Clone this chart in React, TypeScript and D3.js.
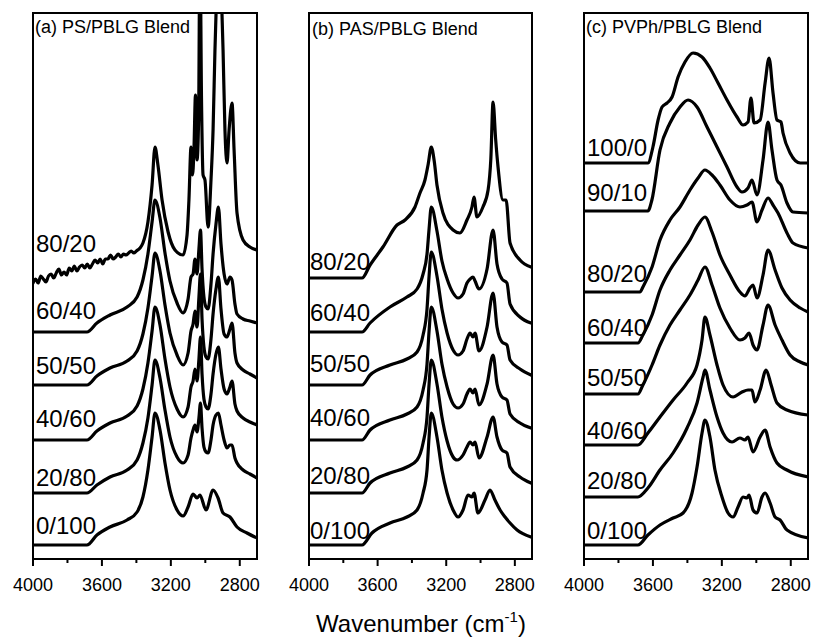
import React from 'react';
import * as d3 from 'd3';

type Pt = [number, number];

// ---------- shared axis values ----------
const xDomain: [number, number] = [4000, 2700];
const majorTicks = [4000, 3600, 3200, 2800];
const minorTicks = [3800, 3400, 3000];
const yDomain: [number, number] = [0, 546];

// ---------- (a) PS/PBLG ----------
const psTitle = '(a) PS/PBLG Blend';
const psLabels = ['80/20', '60/40', '50/50', '40/60', '20/80', '0/100'];
const psLabelLevels = [307, 240, 185, 132, 73, 25];
const ps_80_20: Pt[] = [[4000,276],[3985,280],[3970,276],[3955,283],[3940,280],[3925,277],[3910,283],[3895,285],[3880,281],[3865,286],[3850,290],[3835,284],[3820,287],[3805,284],[3790,291],[3775,288],[3760,293],[3745,288],[3730,292],[3715,294],[3700,291],[3685,295],[3670,291],[3655,295],[3640,299],[3625,296],[3610,300],[3595,295],[3580,300],[3565,300],[3550,304],[3535,300],[3520,302],[3505,305],[3490,302],[3475,305],[3460,304],[3445,306],[3430,308],[3415,306],[3400,308],[3379,311],[3362,316],[3333,337],[3309,374],[3292,412],[3275,394],[3251,359],[3216,327],[3176,309],[3129,304],[3106,324],[3095,359],[3083,412],[3074,384],[3066,409],[3057,464],[3048,399],[3039,439],[3031,620],[3022,459],[3013,384],[3002,379],[2984,332],[2967,379],[2955,429],[2944,509],[2932,579],[2921,619],[2909,579],[2897,509],[2886,429],[2874,396],[2862,429],[2845,456],[2833,409],[2816,346],[2781,319],[2741,312],[2700,309]];
const ps_60_40: Pt[] = [[4000,227],[3687,227],[3629,236],[3553,244],[3454,252],[3396,262],[3362,279],[3333,305],[3309,337],[3292,359],[3263,341],[3234,306],[3205,278],[3164,256],[3129,246],[3100,260],[3083,282],[3071,285],[3060,300],[3048,285],[3037,310],[3028,329],[3019,290],[3008,262],[2996,252],[2984,250],[2967,275],[2955,305],[2938,335],[2924,352],[2909,315],[2891,285],[2874,275],[2857,282],[2845,279],[2828,255],[2816,245],[2781,240],[2741,238],[2700,236]];
const ps_50_50: Pt[] = [[4000,174],[3687,174],[3629,183],[3553,191],[3454,198],[3396,208],[3362,225],[3333,251],[3309,283],[3292,306],[3263,288],[3234,254],[3205,226],[3164,204],[3129,194],[3100,206],[3083,228],[3071,235],[3060,248],[3048,232],[3037,262],[3028,285],[3019,240],[3008,212],[2996,202],[2984,200],[2967,220],[2955,245],[2938,270],[2924,282],[2909,250],[2891,225],[2874,222],[2857,230],[2845,236],[2828,206],[2816,196],[2781,189],[2741,185],[2700,181]];
const ps_40_60: Pt[] = [[4000,119],[3687,119],[3629,128],[3553,136],[3454,143],[3396,153],[3362,170],[3333,196],[3309,228],[3292,252],[3263,234],[3234,200],[3205,172],[3164,150],[3129,142],[3100,152],[3083,172],[3071,178],[3060,190],[3048,178],[3037,200],[3028,222],[3019,185],[3008,160],[2996,152],[2984,150],[2967,165],[2955,185],[2938,205],[2924,212],[2909,190],[2891,170],[2874,165],[2857,172],[2845,178],[2828,155],[2816,148],[2781,141],[2741,137],[2700,134]];
const ps_20_80: Pt[] = [[4000,66],[3687,66],[3629,74],[3553,82],[3454,89],[3396,99],[3362,116],[3333,141],[3309,174],[3292,199],[3263,181],[3234,149],[3205,122],[3164,102],[3129,96],[3100,104],[3083,121],[3071,129],[3060,134],[3048,127],[3037,141],[3028,156],[3019,131],[3008,112],[2996,107],[2984,106],[2967,119],[2955,134],[2938,144],[2924,146],[2909,134],[2891,119],[2874,111],[2857,114],[2845,114],[2828,101],[2816,96],[2781,89],[2741,85],[2700,81]];
const ps_0_100: Pt[] = [[4000,14],[3687,14],[3629,24],[3553,32],[3454,39],[3396,47],[3362,62],[3333,89],[3309,122],[3292,146],[3263,129],[3234,96],[3205,69],[3164,49],[3129,43],[3100,52],[3071,65],[3048,61],[3031,64],[2996,49],[2955,69],[2926,61],[2897,46],[2857,42],[2816,32],[2758,26],[2700,21]];

// ---------- (b) PAS/PBLG ----------
const pasTitle = '(b) PAS/PBLG Blend';
const pasLabels = ['80/20', '60/40', '50/50', '40/60', '20/80', '0/100'];
const pasLabelLevels = [289, 238, 187, 133, 75, 20];
const pas_80_20: Pt[] = [[4000,281],[3691,281],[3644,294],[3569,312],[3487,334],[3440,339],[3382,352],[3353,366],[3324,379],[3305,395],[3287,412],[3270,398],[3254,374],[3219,346],[3160,329],[3120,326],[3079,339],[3050,352],[3038,362],[3021,342],[2986,352],[2956,369],[2940,400],[2927,457],[2912,420],[2898,392],[2869,359],[2851,359],[2828,316],[2770,299],[2706,292]];
const pas_60_40: Pt[] = [[4000,227],[3691,227],[3644,236],[3528,252],[3429,262],[3370,270],[3335,285],[3312,305],[3300,330],[3287,352],[3254,328],[3225,298],[3195,280],[3160,266],[3131,261],[3102,265],[3079,276],[3061,280],[3044,282],[3032,278],[3009,270],[2962,290],[2927,329],[2904,295],[2875,280],[2846,276],[2828,255],[2770,242],[2706,236]];
const pas_50_50: Pt[] = [[4000,174],[3691,174],[3644,184],[3528,194],[3429,200],[3370,207],[3335,224],[3312,250],[3300,283],[3287,307],[3254,283],[3225,250],[3195,226],[3160,209],[3131,204],[3102,208],[3079,220],[3061,226],[3044,222],[3032,226],[3009,208],[2962,232],[2927,266],[2904,232],[2875,217],[2846,214],[2828,199],[2770,190],[2706,184]];
const pas_40_60: Pt[] = [[4000,119],[3691,119],[3644,129],[3528,139],[3429,145],[3370,152],[3335,169],[3312,195],[3300,228],[3287,252],[3254,228],[3225,195],[3195,172],[3160,155],[3131,151],[3102,155],[3079,165],[3061,170],[3044,166],[3032,170],[3009,154],[2962,175],[2927,204],[2904,175],[2875,162],[2846,159],[2828,145],[2770,136],[2706,131]];
const pas_20_80: Pt[] = [[4000,66],[3691,66],[3644,76],[3528,86],[3429,92],[3370,99],[3335,116],[3312,142],[3300,175],[3287,199],[3254,175],[3225,142],[3195,118],[3160,102],[3137,99],[3102,104],[3079,112],[3061,117],[3044,114],[3032,117],[3009,101],[2962,122],[2927,142],[2904,122],[2875,109],[2846,106],[2828,92],[2770,82],[2706,76]];
const pas_0_100: Pt[] = [[4000,14],[3691,14],[3633,26],[3528,36],[3429,42],[3370,49],[3335,66],[3312,89],[3300,122],[3287,146],[3254,122],[3225,89],[3195,66],[3160,49],[3131,42],[3102,49],[3073,64],[3050,62],[3038,66],[3015,46],[2974,59],[2945,69],[2916,59],[2886,49],[2857,42],[2828,36],[2787,29],[2706,22]];

// ---------- (c) PVPh/PBLG ----------
const pvphTitle = '(c) PVPh/PBLG Blend';
const pvphLabels = ['100/0', '90/10', '80/20', '60/40', '50/50', '40/60', '20/80', '0/100'];
const pvphLabelLevels = [403, 358, 277, 223, 173, 120, 70, 20];
const pvph_100_0: Pt[] = [[4000,396],[3629,396],[3600,412],[3570,439],[3547,452],[3518,456],[3489,462],[3454,482],[3414,497],[3367,506],[3315,502],[3269,491],[3222,476],[3170,459],[3112,442],[3077,434],[3048,437],[3031,461],[3013,436],[2978,439],[2949,476],[2926,501],[2903,466],[2880,439],[2857,437],[2845,426],[2804,406],[2745,396],[2700,396]];
const pvph_90_10: Pt[] = [[4000,348],[3629,348],[3606,359],[3559,409],[3501,436],[3443,452],[3396,459],[3344,452],[3286,432],[3228,412],[3170,392],[3112,372],[3083,367],[3048,371],[3025,379],[2996,364],[2961,399],[2932,437],[2909,409],[2880,379],[2857,374],[2822,356],[2787,347],[2700,346]];
const pvph_80_20: Pt[] = [[4000,267],[3675,267],[3658,272],[3605,292],[3559,319],[3501,339],[3443,352],[3385,369],[3338,381],[3298,389],[3257,384],[3211,374],[3153,359],[3095,352],[3054,354],[3025,357],[2996,337],[2967,349],[2932,361],[2903,354],[2874,346],[2822,326],[2787,316],[2700,311]];
const pvph_60_40: Pt[] = [[4000,216],[3687,216],[3658,224],[3605,244],[3559,269],[3501,289],[3443,304],[3385,319],[3338,334],[3298,342],[3257,327],[3211,304],[3153,284],[3095,267],[3066,263],[3037,271],[3019,274],[2996,261],[2961,284],[2932,309],[2891,289],[2851,271],[2804,259],[2745,251],[2700,247]];
const pvph_50_50: Pt[] = [[4000,165],[3687,165],[3658,174],[3605,194],[3559,214],[3501,234],[3443,249],[3385,264],[3338,279],[3298,292],[3257,274],[3211,251],[3153,231],[3095,219],[3066,221],[3042,226],[3019,214],[2996,209],[2961,234],[2932,254],[2891,234],[2851,219],[2804,204],[2745,197],[2700,194]];
const pvph_40_60: Pt[] = [[4000,114],[3687,114],[3629,126],[3559,142],[3483,159],[3402,176],[3344,194],[3315,219],[3298,242],[3269,224],[3228,194],[3193,174],[3135,162],[3083,167],[3048,169],[3025,169],[3008,157],[2978,169],[2943,189],[2914,174],[2880,156],[2822,149],[2700,144]];
const pvph_20_80: Pt[] = [[4000,62],[3687,62],[3629,71],[3559,89],[3483,106],[3402,131],[3344,156],[3309,182],[3298,189],[3269,169],[3228,142],[3193,126],[3141,117],[3095,121],[3066,119],[3048,122],[3019,107],[2978,122],[2949,129],[2920,112],[2880,96],[2822,89],[2700,82]];
const pvph_0_100: Pt[] = [[4000,14],[3687,14],[3629,24],[3559,34],[3483,41],[3425,46],[3373,66],[3344,92],[3315,126],[3298,139],[3269,122],[3240,89],[3199,62],[3164,46],[3135,42],[3106,52],[3077,62],[3054,61],[3042,64],[3019,49],[2996,46],[2967,62],[2949,66],[2920,56],[2891,42],[2862,39],[2822,29],[2700,21]];

const axisTitle = 'Wavenumber (cm';
const axisTitleSup = '-1';

const panelData = [
  { title: psTitle, labels: psLabels, levels: psLabelLevels, series: [ps_80_20, ps_60_40, ps_50_50, ps_40_60, ps_20_80, ps_0_100] },
  { title: pasTitle, labels: pasLabels, levels: pasLabelLevels, series: [pas_80_20, pas_60_40, pas_50_50, pas_40_60, pas_20_80, pas_0_100] },
  { title: pvphTitle, labels: pvphLabels, levels: pvphLabelLevels, series: [pvph_100_0, pvph_90_10, pvph_80_20, pvph_60_40, pvph_50_50, pvph_40_60, pvph_20_80, pvph_0_100] },
];

// ---------- layout ----------
const W = 813, H = 639;
const TOP = 13, BOTTOM = 559;
const layout = [
  { x0: 33, x1: 257, titleX: 35, titleY: 33, labelDx: 3 },
  { x0: 309, x1: 532, titleX: 312, titleY: 35, labelDx: 1 },
  { x0: 584, x1: 808, titleX: 586, titleY: 33, labelDx: 3 },
];
const FONT = 'Arial, "Liberation Sans", Helvetica, sans-serif';

function Panel({ idx }: { idx: number }) {
  const L = layout[idx];
  const P = panelData[idx];
  const x = d3.scaleLinear().domain(xDomain).range([L.x0, L.x1]);
  const y = d3.scaleLinear().domain(yDomain).range([BOTTOM, TOP]);
  const line = d3.line<Pt>().x(d => x(d[0])).y(d => y(d[1])).curve(d3.curveMonotoneX);
  const clipId = `clip-${idx}`;
  return (
    <g>
      <defs>
        <clipPath id={clipId}>
          <rect x={L.x0} y={TOP} width={L.x1 - L.x0} height={BOTTOM - TOP} />
        </clipPath>
      </defs>
      <g clipPath={`url(#${clipId})`}>
        {P.series.map((s, i) => (
          <path key={i} d={line(s) || ''} fill="none" stroke="#000" strokeWidth={3.2} strokeLinejoin="round" strokeLinecap="round" />
        ))}
      </g>
      <rect x={L.x0} y={TOP} width={L.x1 - L.x0} height={BOTTOM - TOP} fill="none" stroke="#000" strokeWidth={2} />
      {majorTicks.map(t => (
        <g key={t}>
          <line x1={x(t)} x2={x(t)} y1={BOTTOM} y2={BOTTOM + 7} stroke="#000" strokeWidth={2} />
          <text x={x(t)} y={591} textAnchor="middle" fontFamily={FONT} fontSize={18}>{t}</text>
        </g>
      ))}
      {minorTicks.map(t => (
        <line key={t} x1={x(t)} x2={x(t)} y1={BOTTOM} y2={BOTTOM + 4} stroke="#000" strokeWidth={2} />
      ))}
      <text x={L.titleX} y={L.titleY} fontFamily={FONT} fontSize={18}>{P.title}</text>
      {P.labels.map((lab, i) => (
        <text key={lab} x={L.x0 + L.labelDx} y={y(P.levels[i])} fontFamily={FONT} fontSize={24}>{lab}</text>
      ))}
    </g>
  );
}

export default function App() {
  return (
    <svg width={W} height={H} style={{ position: 'absolute', left: 0, top: 0, background: '#fff' }}>
      <rect width={W} height={H} fill="#fff" />
      {layout.map((_, i) => <Panel key={i} idx={i} />)}
      <text x={421} y={632} textAnchor="middle" fontFamily={FONT} fontSize={24}>
        {axisTitle}
        <tspan fontSize={15} dy={-10}>{axisTitleSup}</tspan>
        <tspan dy={10}>)</tspan>
      </text>
    </svg>
  );
}
